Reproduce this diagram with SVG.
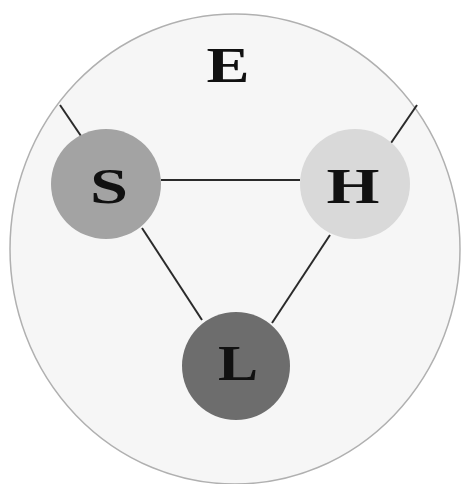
<svg xmlns="http://www.w3.org/2000/svg" width="463" height="484" viewBox="0 0 463 484">
<style>
.edge{stroke:#2a2a2a;stroke-width:2;fill:none}
.lbl{font-family:"Liberation Serif","DejaVu Serif",serif;font-weight:bold;font-size:50px;fill:#111;text-anchor:middle}
</style>
<rect width="463" height="484" fill="#ffffff"/>
<g id="E">
<ellipse cx="235" cy="249" rx="225" ry="235" fill="#f6f6f6" stroke="#b0b0b0" stroke-width="1.5"/>
<text class="lbl" x="228" y="82" textLength="43" lengthAdjust="spacingAndGlyphs">E</text>
</g>
<g id="connectors">
<line class="edge" x1="60" y1="105" x2="81" y2="136"/>
<line class="edge" x1="417" y1="105" x2="391" y2="143"/>
<line class="edge" x1="161" y1="180" x2="300" y2="180"/>
<line class="edge" x1="142" y1="228" x2="202" y2="320"/>
<line class="edge" x1="330" y1="235" x2="272" y2="323"/>
</g>
<g id="S">
<circle cx="106" cy="184" r="55" fill="#a3a3a3"/>
<text class="lbl" x="109" y="203" textLength="38" lengthAdjust="spacingAndGlyphs">S</text>
</g>
<g id="H">
<circle cx="355" cy="184" r="55" fill="#d9d9d9"/>
<text class="lbl" x="353" y="203" textLength="53" lengthAdjust="spacingAndGlyphs">H</text>
</g>
<g id="L">
<circle cx="236" cy="366" r="54" fill="#6d6d6d"/>
<text class="lbl" x="238" y="380" textLength="40" lengthAdjust="spacingAndGlyphs">L</text>
</g>
</svg>
